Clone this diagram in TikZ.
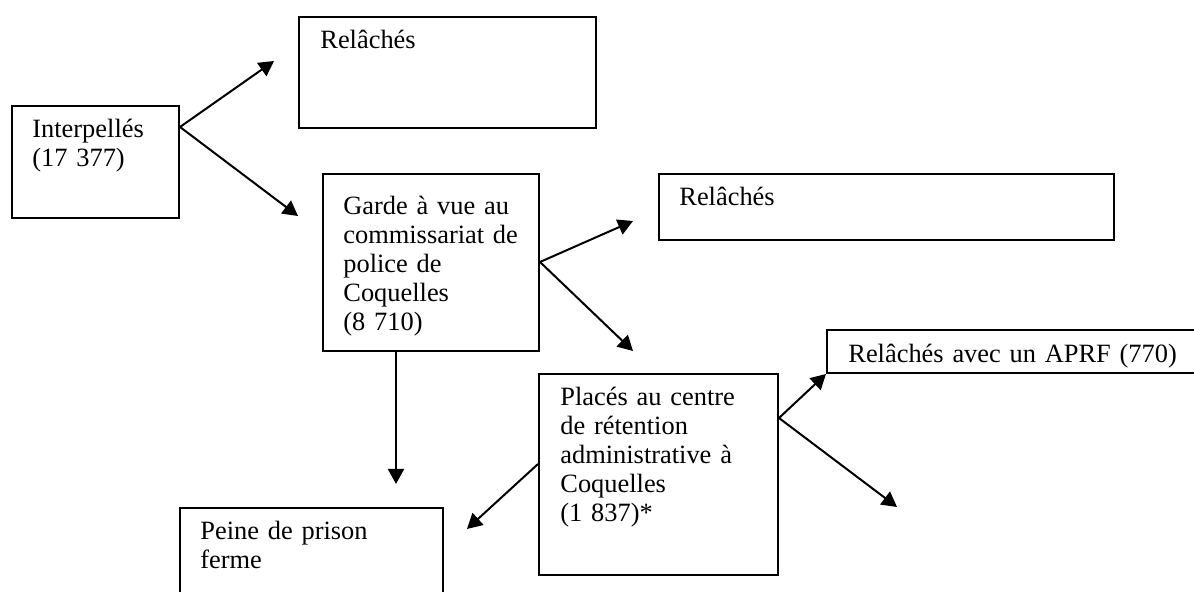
\documentclass[tikz,border=0pt]{standalone}
\usepackage{fontspec}
\setmainfont{Liberation Serif}
\usetikzlibrary{arrows.meta}
\begin{document}
\begin{tikzpicture}[x=0.5pt,y=-0.5pt,
  box/.style={draw, line width=1pt, rectangle, inner sep=0pt, anchor=north west},
  txt/.style={anchor=base west, inner sep=0pt, text width=200pt, align=left,
    font=\fontsize{13.2pt}{14.4pt}\selectfont},
  arr/.style={line width=1pt, -{Triangle[length=7.5pt,width=8pt]}}]
\useasboundingbox (0,0) rectangle (1194,592);
% boxes
\node[box, minimum width=83.5pt, minimum height=56pt] (interp) at (11,105) {};
\node[box, minimum width=148.5pt, minimum height=55.5pt] (rel1) at (298,16) {};
\node[box, minimum width=108pt, minimum height=88.5pt] (garde) at (322,173) {};
\node[box, minimum width=227.5pt, minimum height=33pt] (rel2) at (658,173) {};
\node[box, minimum width=200pt, minimum height=21.5pt] (aprf) at (826,329) {};
\node[box, minimum width=119.5pt, minimum height=100.5pt] (places) at (538,373) {};
\node[box, minimum width=131.5pt, minimum height=60pt] (peine) at (179,507) {};
% texts
\node[txt] (interp-t) at (32,138) {Interpellés\\(17 377)};
\node[txt] (rel1-t) at (320,49) {Relâchés};
\node[txt] (garde-t) at (343,215) {Garde à vue au\\commissariat de\\police de\\Coquelles\\(8 710)};
\node[txt] (rel2-t) at (679,206) {Relâchés};
\node[txt] (aprf-t) at (848,363) {Relâchés avec un APRF (770)};
\node[txt] (places-t) at (560,406) {Placés au centre\\de rétention\\administrative à\\Coquelles\\(1 837)*};
\node[txt] (peine-t) at (200,540) {Peine de prison\\ferme};
% free arrow ends
\coordinate (t1) at (274,61);
\coordinate (t2) at (298,216);
\coordinate (t3) at (633,221);
\coordinate (t4) at (633,351);
\coordinate (t5) at (396,484);
\coordinate (t6) at (467,529);
\coordinate (t8) at (897,507);
% connectors
\coordinate (s1) at ([yshift=-11pt]interp.north east);
\coordinate (s2) at ([yshift=-44.5pt]garde.north east);
\coordinate (s3) at ([xshift=37pt]garde.south west);
\coordinate (s4) at ([yshift=-45.5pt]places.north west);
\coordinate (s5) at ([yshift=-22.5pt]places.north east);
\draw[arr] (s1) -- (t1);
\draw[arr] (s1) -- (t2);
\draw[arr] (s2) -- (t3);
\draw[arr] (s2) -- (t4);
\draw[arr] (s3) -- (t5);
\draw[arr] (s4) -- (t6);
\draw[arr] (s5) -- (aprf.south west);
\draw[arr] (s5) -- (t8);
\end{tikzpicture}
\end{document}
